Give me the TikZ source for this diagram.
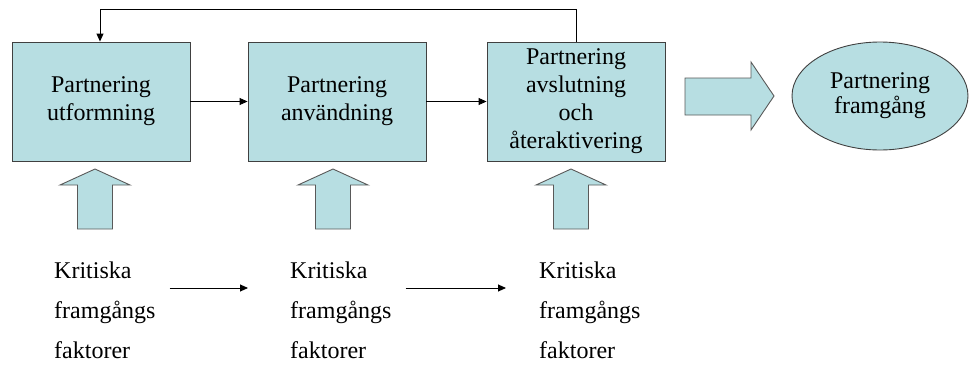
\documentclass[tikz,border=0pt]{standalone}
\usepackage{fontspec}
\setmainfont{Liberation Serif}
\usepackage{tikz}
\usetikzlibrary{calc,positioning,arrows.meta,shapes.geometric}
\definecolor{phasefill}{RGB}{183,222,226}
\tikzset{
    phase/.style={
        rectangle,
        fill=phasefill,
        draw=black!75, line width=0.9pt,
        minimum width=178pt,
        minimum height=119pt,
        inner sep=0pt,
        align=center,
        font={\fontsize{24pt}{28pt}\selectfont}
    },
    goal/.style={
        ellipse,
        fill=phasefill,
        draw=black!75, line width=0.9pt,
        minimum width=176pt,
        minimum height=108pt,
        inner sep=0pt,
        align=center,
        font={\fontsize{24pt}{25pt}\selectfont}
    },
    factor/.style={
        anchor=north west,
        inner sep=0pt,
        align=left,
        font={\fontsize{24pt}{40pt}\selectfont}
    },
    blockarrow/.style={fill=phasefill, draw=black!65, line width=0.9pt, line join=miter},
    line/.style={draw, line width=0.9pt, ->},
}

\begin{document}
\begin{tikzpicture}[x=1pt, y=-1pt, >={Triangle[length=8pt,width=7pt]}]
\useasboundingbox (0,0) rectangle (972,370);

\node [phase] (phase-1) at (101,101.5) {Partnering\\utformning};
\node [phase] (phase-2) at (337,101.5) {Partnering\\användning};
\node [phase] (phase-3) at (576,101.5) {Partnering\\avslutning\\och\\återaktivering};
\node [goal] (goal) at (880,96) {Partnering\\framgång};

\draw [line] (phase-1) -- (phase-2);
\draw [line] (phase-2) -- (phase-3);
\draw [line] (phase-3.north) -- ++(0,-32) -| ([xshift=-1pt]phase-1.north);

% block arrows
\draw [blockarrow] (685,78) -- (751,78) -- (751,62) -- (774,96) -- (751,130)
  -- (751,115) -- (685,115) -- cycle;

\foreach \x in {95,333,571}
  \draw [blockarrow] (\x-17.5,229) -- (\x-17.5,185) -- (\x-35,185) -- (\x,169)
    -- (\x+35,185) -- (\x+17.5,185) -- (\x+17.5,229) -- cycle;

\foreach \x [count=\i] in {54,290,539}
  \node [factor] (factor-\i) at (\x,262) {Kritiska\\framgångs\\faktorer};

\draw [line] ([shift={(14,26)}]factor-1.north east) -- ([shift={(-42,26)}]factor-2.north west);
\draw [line] ([shift={(14,26)}]factor-2.north east) -- ([shift={(-33,26)}]factor-3.north west);

\end{tikzpicture}
\end{document}
